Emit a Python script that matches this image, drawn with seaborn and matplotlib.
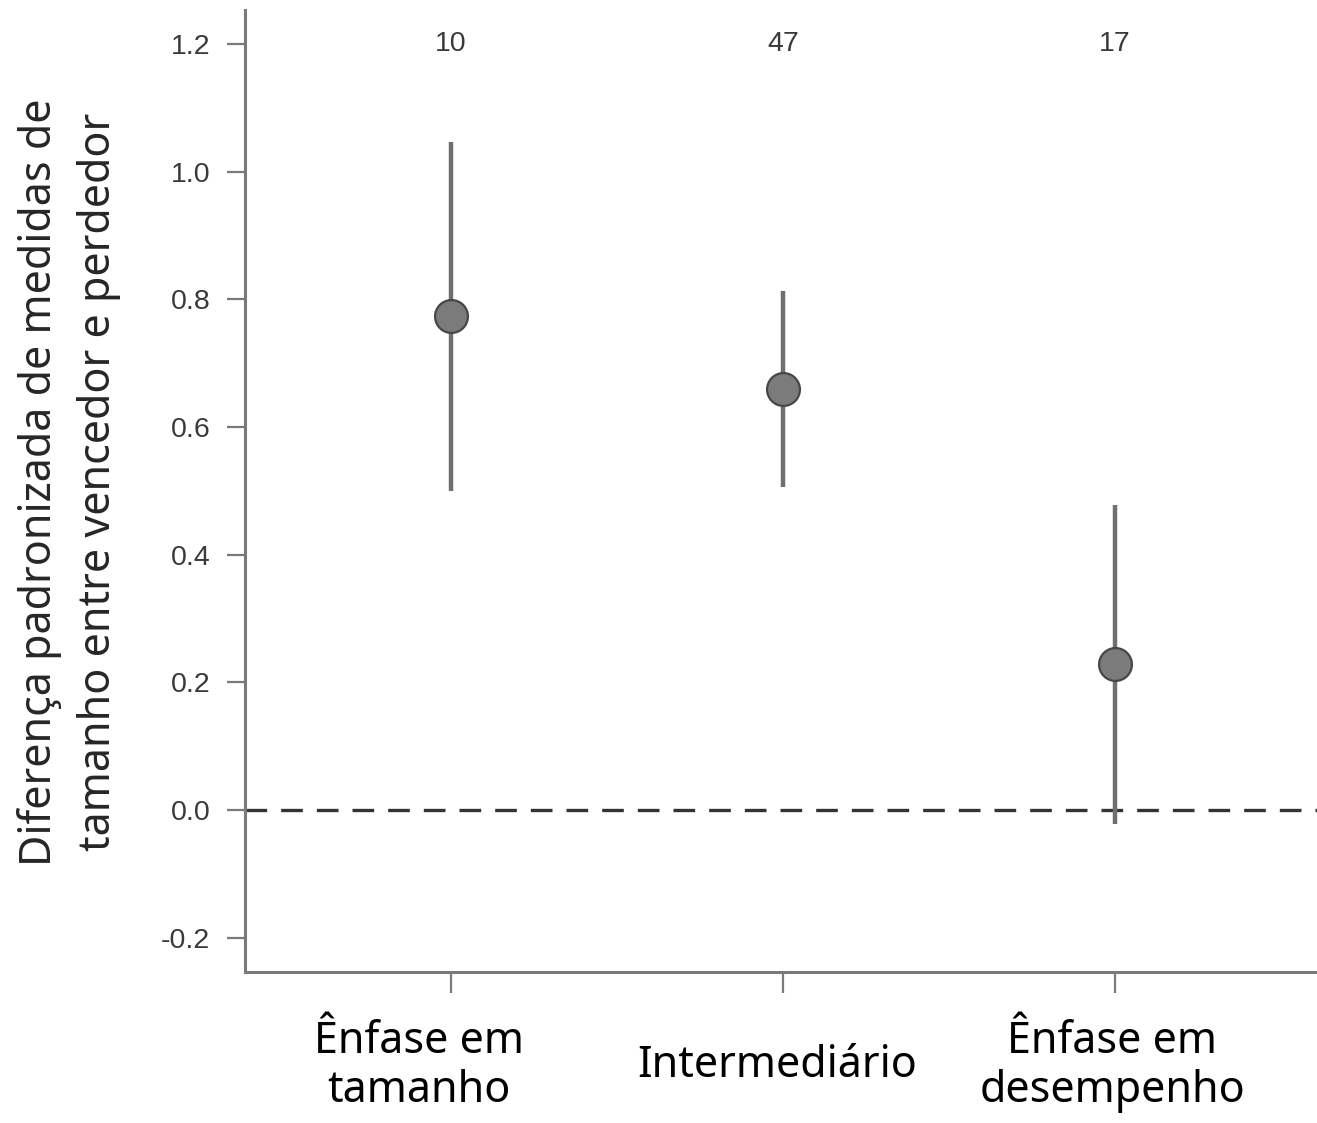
import matplotlib
matplotlib.use("Agg")
import matplotlib.pyplot as plt
import seaborn as sns
import pandas as pd

# Group categories, mean effect sizes and 95% interval bounds
categories = ["Ênfase em\ntamanho", "Intermediário", "Ênfase em\ndesempenho"]
means = [0.773, 0.659, 0.229]
lower = [0.500, 0.505, -0.022]
upper = [1.047, 0.813, 0.478]
counts = ["10", "47", "17"]
yticks = [-0.2, 0.0, 0.2, 0.4, 0.6, 0.8, 1.0, 1.2]

df = pd.DataFrame({"grupo": categories, "media": means, "inf": lower, "sup": upper})

sns.set_theme(style="ticks")
plt.rcParams["font.family"] = ["Liberation Sans", "DejaVu Sans"]

W, H = 1317, 1123
fig = plt.figure(figsize=(W / 100, H / 100), dpi=100)
ax = fig.add_axes([245 / W, 1 - 972 / H, (W - 245) / W, (972 - 10) / H])

spine_col = "#7a7a7a"
pos = list(range(len(categories)))

# reference line at zero
ax.axhline(0, color="#333333", lw=2.4, dashes=(6.5, 4.2), zorder=1)

# confidence intervals
ax.vlines(pos, df["inf"], df["sup"], color="#6f6f6f", lw=3.2, zorder=2)

# point estimates
sns.scatterplot(x=pos, y=df["media"], ax=ax, s=560, color="#7b7b7b",
                edgecolor="#474747", linewidth=1.6, zorder=3, legend=False)

# sample sizes above each group
for p, n in zip(pos, counts):
    ax.text(p, 1.2, n, ha="center", va="center", fontsize=20.5, color="#3a3a3a")

ax.set_xlim(-0.62, 2.608)
ax.set_ylim(-0.254, 1.253)
ax.set_yticks(yticks)
ax.set_yticklabels([f"{v:.1f}" for v in yticks])
ax.set_xticks(pos)
ax.set_xticklabels([])

# category labels under the ticks
label_shift = [-32, -6, -3]
for p, lab, dx in zip(pos, categories, label_shift):
    ax.annotate(lab, xy=(p, 0), xycoords=("data", "axes fraction"),
                xytext=(dx * 0.72, -68), textcoords="offset points",
                ha="center", va="center", fontsize=31, color="black",
                family=["Noto Sans", "DejaVu Sans"], linespacing=1.15)

ax.tick_params(axis="y", length=13, width=1.6, color=spine_col, pad=12,
               labelsize=20.5, labelcolor="#3a3a3a")
ax.tick_params(axis="x", length=15, width=1.6, color=spine_col)

for side in ["top", "right"]:
    ax.spines[side].set_visible(False)
for side in ["left", "bottom"]:
    ax.spines[side].set_color(spine_col)
    ax.spines[side].set_linewidth(2.2)

ax.set_ylabel("")
ax.set_xlabel("")
fig.text(69 / W, 1 - 482 / H,
         "Diferença padronizada de medidas de\ntamanho entre vencedor e perdedor",
         rotation=90, ha="center", va="center", fontsize=31,
         family=["Noto Sans", "DejaVu Sans"], linespacing=1.45,
         multialignment="center")

fig.savefig("out.png", dpi=100)
